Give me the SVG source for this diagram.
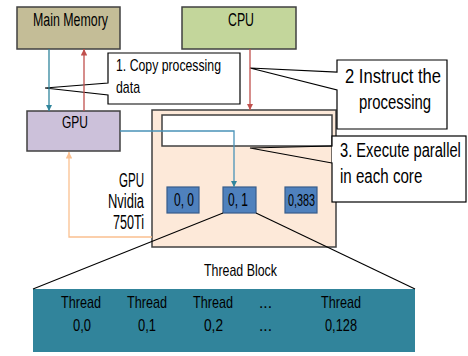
<svg xmlns="http://www.w3.org/2000/svg" width="468" height="356" viewBox="0 0 468 356">
<defs>
<style>
text{font-family:"Liberation Sans",Arial,sans-serif;fill:#000}
.box{stroke:#404040;stroke-width:1.5}
.call{fill:#fff;stroke:#000;stroke-width:1.2}
.notch{fill:none;stroke:#000;stroke-width:1.2}
.core{fill:#4F81BD;stroke:#385D8A;stroke-width:1.2}
.ln{fill:none;stroke-width:1.3}
</style>
<marker id="aT" viewBox="0 0 10 10" refX="10" refY="5" markerWidth="5" markerHeight="5" orient="auto"><path d="M0,0L10,5L0,10z" fill="#31859C"/></marker>
<marker id="aR" viewBox="0 0 10 10" refX="10" refY="5" markerWidth="5" markerHeight="5" orient="auto"><path d="M0,0L10,5L0,10z" fill="#C0504D"/></marker>
<marker id="aP" viewBox="0 0 10 10" refX="10" refY="5" markerWidth="5" markerHeight="5" orient="auto"><path d="M0,0L10,5L0,10z" fill="#FAC090"/></marker>
</defs>
<rect width="468" height="356" fill="#fff"/>

<g id="main-memory">
<rect class="box" x="17" y="7" width="103" height="42" fill="#C4BD97"/>
<text x="33" y="26" font-size="18" textLength="75" lengthAdjust="spacingAndGlyphs">Main Memory</text>
</g>
<g id="cpu">
<rect class="box" x="182" y="7" width="114" height="42" fill="#C3D69B"/>
<text x="228" y="26" font-size="18" textLength="26" lengthAdjust="spacingAndGlyphs">CPU</text>
</g>
<g id="gpu">
<rect class="box" x="27" y="111" width="93" height="40" fill="#CCC1DA"/>
<text x="62" y="128" font-size="17" textLength="26" lengthAdjust="spacingAndGlyphs">GPU</text>
</g>

<g id="gpu-device">
<rect class="box" x="152" y="110" width="184" height="137" fill="#FDE9D9"/>
<rect class="box" x="162" y="115" width="170" height="31" fill="#fff"/>
<text x="144" y="187" font-size="20" text-anchor="end" textLength="25" lengthAdjust="spacingAndGlyphs">GPU</text>
<text x="144" y="208" font-size="20" text-anchor="end" textLength="36" lengthAdjust="spacingAndGlyphs">Nvidia</text>
<text x="144" y="229" font-size="20" text-anchor="end" textLength="31" lengthAdjust="spacingAndGlyphs">750Ti</text>
</g>
<g id="core-0-0">
<rect class="core" x="167" y="187" width="32" height="26"/>
<text x="174" y="206" font-size="18" textLength="20" lengthAdjust="spacingAndGlyphs">0, 0</text>
</g>
<g id="core-0-1">
<rect class="core" x="223" y="187" width="33" height="26"/>
<text x="228" y="206" font-size="18" textLength="20" lengthAdjust="spacingAndGlyphs">0, 1</text>
</g>
<g id="core-0-383">
<rect class="core" x="285" y="187" width="32" height="26"/>
<text x="288" y="206" font-size="17" textLength="27" lengthAdjust="spacingAndGlyphs">0,383</text>
</g>

<g id="thread-block">
<text x="204" y="276" font-size="17" textLength="73" lengthAdjust="spacingAndGlyphs">Thread Block</text>
<rect x="33" y="289" width="382" height="63" fill="#31849B"/>
<text x="61" y="308" font-size="17" textLength="40" lengthAdjust="spacingAndGlyphs">Thread</text>
<text x="73" y="331" font-size="17" textLength="18" lengthAdjust="spacingAndGlyphs">0,0</text>
<text x="127" y="308" font-size="17" textLength="40" lengthAdjust="spacingAndGlyphs">Thread</text>
<text x="138" y="331" font-size="17" textLength="18" lengthAdjust="spacingAndGlyphs">0,1</text>
<text x="193" y="308" font-size="17" textLength="40" lengthAdjust="spacingAndGlyphs">Thread</text>
<text x="204" y="331" font-size="17" textLength="19" lengthAdjust="spacingAndGlyphs">0,2</text>
<text x="259" y="308" font-size="17" textLength="13" lengthAdjust="spacingAndGlyphs">...</text>
<text x="259" y="331" font-size="17" textLength="13" lengthAdjust="spacingAndGlyphs">...</text>
<text x="321" y="308" font-size="17" textLength="40" lengthAdjust="spacingAndGlyphs">Thread</text>
<text x="325" y="331" font-size="17" textLength="32" lengthAdjust="spacingAndGlyphs">0,128</text>
</g>

<g id="callout-1">
<polygon class="call" points="108,53 240,53 240,104 108,104 108,95 45,88 108,83"/>
<text x="116" y="71" font-size="17" textLength="105" lengthAdjust="spacingAndGlyphs">1. Copy processing</text>
<text x="116" y="93" font-size="17" textLength="24" lengthAdjust="spacingAndGlyphs">data</text>
</g>
<g id="callout-2">
<polygon class="call" points="337,60 447,60 447,129 337,129 337,90 250,68 337,72"/>
<text x="345" y="83" font-size="20" textLength="96" lengthAdjust="spacingAndGlyphs">2 Instruct the</text>
<text x="359" y="109" font-size="20" textLength="72" lengthAdjust="spacingAndGlyphs">processing</text>
</g>
<g id="callout-3">
<rect class="call" x="332" y="136" width="134" height="66"/>
<polyline class="notch" points="332,146 250,148 332,163"/>
<line x1="332.6" y1="146.6" x2="332.6" y2="162.4" stroke="#fff" stroke-width="1.4"/>
<text transform="translate(340,157) scale(0.7,1)" font-size="21">3. Execute parallel</text>
<text transform="translate(340,183) scale(0.72,1)" font-size="21">in each core</text>
</g>

<g id="connectors">
<line class="ln" x1="49" y1="49" x2="49" y2="111" stroke="#31859C" marker-end="url(#aT)"/>
<line class="ln" x1="84" y1="111" x2="84" y2="49" stroke="#C0504D" marker-end="url(#aR)"/>
<line class="ln" x1="250" y1="49" x2="250" y2="110" stroke="#C0504D" marker-end="url(#aR)"/>
<polyline class="ln" points="120,131 234,131 234,187" stroke="#4A93B8" marker-end="url(#aT)"/>
<polyline class="ln" points="152,237 69,237 69,152" stroke="#FAC090" marker-end="url(#aP)"/>
<line x1="223" y1="213" x2="33" y2="289" stroke="#000" stroke-width="1.1"/>
<line x1="256" y1="213" x2="415" y2="289" stroke="#000" stroke-width="1.1"/>
</g>
</svg>
